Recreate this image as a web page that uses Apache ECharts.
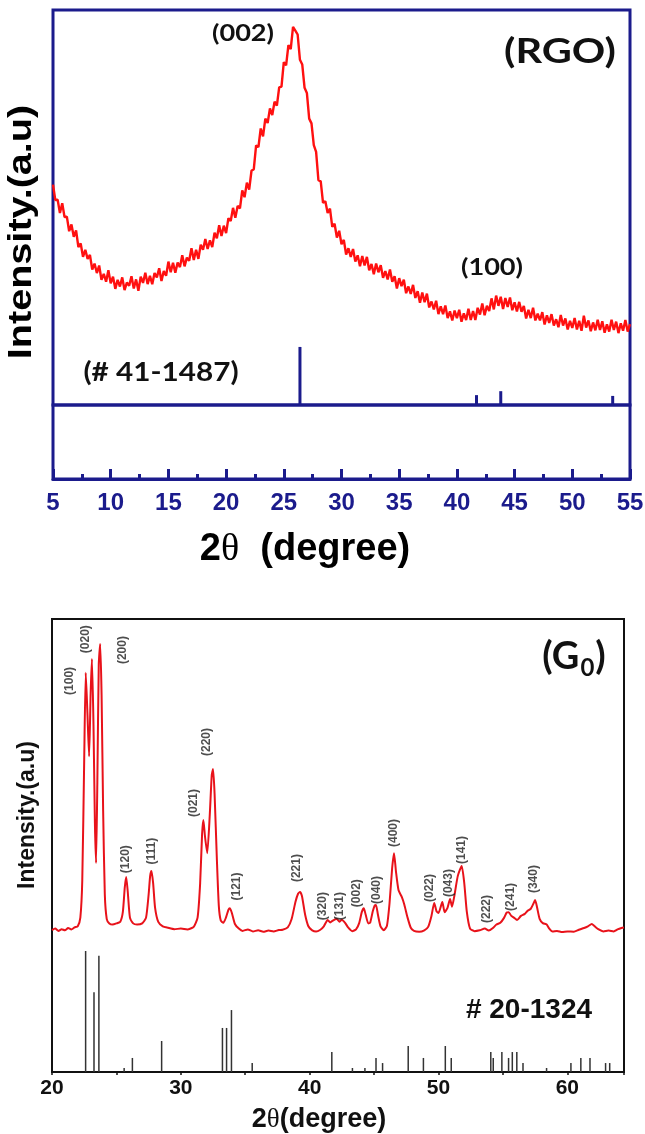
<!DOCTYPE html>
<html><head><meta charset="utf-8">
<script src="https://cdn.jsdelivr.net/npm/echarts@6/dist/echarts.min.js"></script>
<style>html,body{margin:0;padding:0;background:#fff}#c{width:645px;height:1134px}</style>
</head><body><div id="c"></div>
<script>
// ---------- RGO panel data ----------
const rgoScanStart = 5;      // first 2θ of the scan
const rgoScanStep = 0.2;     // scan step (degree)
const rgoIntensity = [
55.8,51.9,52.0,48.6,51.1,47.6,47.7,44.0,45.7,42.6,
44.2,40.0,40.9,37.5,39.3,37.0,38.0,34.3,35.8,33.4,
35.3,31.7,33.2,31.2,34.1,30.8,32.5,29.4,31.7,30.0,
32.3,29.1,31.0,30.2,32.6,29.5,31.8,28.9,32.5,30.9,
33.5,30.6,32.7,30.6,33.4,32.3,34.6,31.4,33.9,32.7,
36.3,33.6,36.0,33.5,36.1,34.9,37.9,35.1,37.3,36.5,
39.7,36.7,39.3,37.0,40.6,39.3,42.0,39.5,41.7,40.0,
43.6,42.2,45.5,42.8,45.4,43.5,47.3,46.6,49.9,47.4,
50.4,49.8,54.3,52.6,56.3,54.5,59.3,59.7,65.7,65.3,
70.0,68.0,72.5,71.4,75.1,73.4,76.8,75.8,80.4,80.6,
86.8,86.0,91.1,90.1,95.7,94.8,93.8,87.4,86.2,80.3,
79.0,72.5,71.3,65.8,64.1,56.9,56.6,51.2,51.6,48.6,
49.7,45.1,45.9,42.4,44.1,40.7,41.8,38.1,39.7,37.5,
39.5,36.3,37.9,35.1,37.7,35.3,37.5,34.1,35.7,33.1,
35.8,33.6,35.4,32.2,33.9,31.8,34.3,31.2,32.6,29.5,
32.1,30.1,31.7,28.3,30.0,28.1,30.4,27.1,28.8,25.9,
28.5,26.0,28.2,24.7,26.2,24.2,26.4,23.0,25.0,23.0,
25.2,22.0,23.7,21.4,23.9,22.0,24.1,21.1,23.2,21.5,
24.4,21.5,23.8,21.5,24.6,22.9,25.7,22.7,25.1,23.8,
27.0,24.2,27.7,25.1,27.4,24.3,27.1,24.8,27.2,24.0,
26.0,23.7,26.1,23.6,25.1,21.9,24.1,22.0,24.6,21.4,
23.1,21.4,23.5,20.4,22.7,20.8,23.0,20.1,21.7,19.7,
22.8,20.1,21.9,19.1,21.3,19.5,22.0,19.1,21.3,18.8,
22.6,19.6,21.4,18.7,20.9,18.9,21.6,19.0,21.2,18.3,
20.4,18.6,21.6,19.0,21.1,18.2,20.7,18.8,21.5,18.6,
20.5];
const rgoRefAngle = [26.4, 41.7, 43.8, 53.5];
const rgoRefIntensity = [14.7, 2.5, 3.5, 2.3];
const rgoPeakText = ['(002)', '(100)'];

// ---------- G0 panel data ----------
const g0Angle = [
20.0,20.25,20.5,20.75,21.0,21.25,21.5,21.75,22.0,22.2,22.35,22.5,22.62,22.75,22.88,23.0,23.1,23.22,23.33,23.42,
23.52,23.63,23.74,23.85,23.97,24.1,24.25,24.45,24.7,25.0,25.3,25.5,25.65,25.76,25.88,26.05,26.3,26.6,27.0,27.3,
27.5,27.62,27.72,27.85,28.0,28.25,28.6,29.0,29.5,30.0,30.5,31.0,31.3,31.5,31.65,31.75,31.88,32.05,32.25,32.4,
32.5,32.62,32.8,32.95,33.1,33.3,33.5,33.7,33.8,33.95,34.2,34.5,34.8,35.2,35.6,36.0,36.4,36.8,37.2,37.6,
37.9,38.3,38.6,38.9,39.1,39.25,39.4,39.65,39.9,40.2,40.5,40.8,41.1,41.4,41.6,41.8,42.1,42.3,42.5,42.75,
43.0,43.3,43.6,43.85,44.05,44.2,44.35,44.55,44.7,44.9,45.05,45.15,45.3,45.5,45.75,46.0,46.2,46.4,46.55,46.7,
46.9,47.15,47.35,47.6,47.85,48.1,48.5,48.9,49.2,49.45,49.67,49.85,50.0,50.3,50.48,50.7,50.9,51.05,51.25,51.5,
51.8,52.0,52.2,52.45,52.8,53.2,53.6,53.9,54.2,54.5,54.8,55.1,55.3,55.45,55.65,55.85,56.1,56.4,56.7,56.9,
57.15,57.35,57.5,57.65,57.85,58.1,58.4,58.6,58.85,59.2,59.6,60.0,60.5,60.9,61.3,61.6,61.9,62.1,62.4,62.8,
63.2,63.6,63.9,64.2,64.4];
const g0Intensity = [
0.7,1.2,0.4,1.0,0.6,1.4,0.9,1.6,2.0,5,18,60,90,76,61,83,94.8,72,38,24,
52,93,100,82,42,13,4.5,3.0,2.6,3.0,3.6,7,15.5,19.1,14,5,3.0,2.6,3.0,5,
13,19.5,21.2,17,8.5,3.5,2.0,1.5,1.0,1.2,0.9,1.8,5,17,34,38.9,33,27.4,41,54.5,
56.6,48,25,9,4,3.2,5,7.8,8.3,6.8,2.8,1.2,0.4,0.9,0.2,0.6,0.1,0.5,0.2,0.7,
0.8,1.6,4.5,10.5,13.3,13.9,12.5,6,2,0.6,0.2,0.7,2,4.2,3.3,4.0,4.6,3.6,4.3,3.2,
1.5,0.3,0.9,3.2,7,8.3,6,3,3.3,7.2,9.2,9.4,6,2,0.6,2.2,10,22,27.4,21,
14.5,12.2,9.5,5,1.5,0.4,0.1,0.6,1.8,5.5,10.1,7.2,6.6,10.4,6.9,8.4,11.5,8.8,13,19.5,
22.9,17,7,1.2,0.3,0.6,1.2,0.5,1.3,2.6,3.2,5,6.8,6.9,5.6,5,4.2,5.6,6.3,7.3,
8,9.7,11.1,8.6,4.6,3.1,2.6,1.2,0.2,0.4,0.0,0.2,0.1,0.8,1.4,2.0,2.8,2.1,1.0,0.2,
0.5,0.2,0.9,1.4,1.6];
const g0RefAngle = [22.61,23.26,23.64,25.6,26.24,28.51,33.23,33.55,33.93,35.54,41.72,43.32,44.29,45.15,45.66,47.65,48.83,50.53,50.99,54.06,54.25,54.92,55.44,55.73,56.08,56.56,58.39,60.28,61.05,61.76,62.97,63.29];
const g0RefIntensity = [100,66,96,3.3,11.6,25.6,36.4,36.4,51.2,7.4,16.5,3.3,3.3,11.6,7.4,21.5,11.6,21.5,11.6,16.5,11.6,16.5,11.6,16.5,16.5,7.4,3.3,7.4,11.6,11.6,7.4,7.4];
const g0PeakLabel = ['(100)','(020)','(200)','(120)','(111)','(021)','(220)','(121)','(221)','(320)','(131)','(002)','(040)','(400)','(022)','(043)','(141)','(222)','(241)','(340)'];
const g0PeakLabelAngle = [21.36,22.65,25.47,25.75,27.71,30.98,32.04,34.35,38.99,41.03,42.36,43.65,45.21,46.56,49.35,50.83,51.77,53.76,55.58,57.39];
const g0PeakLabelLevel = [87.2,101.7,97.9,25.3,28.1,44.8,66.0,15.8,22.2,9.0,9.0,13.5,14.6,34.4,15.3,17.0,28.5,8.0,12.2,18.4];

const NAVY = '#1b1b8c';
const RED = '#ff1010';
const SANS = '"Liberation Sans", Arial, sans-serif';
const CAL = 'Lato, "Open Sans", sans-serif';

const chart = echarts.init(document.getElementById('c'), null, {renderer: 'canvas'});

function txt(text, x, y, font, fill, opts) {
  return Object.assign({
    type: 'text', x: x, y: y, z: 100,
    style: {text: text, font: font, fill: fill, align: 'center', verticalAlign: 'middle'}
  }, opts || {});
}

const option = {
  animation: false,
  backgroundColor: '#fff',
  grid: [
    {left: 53, top: 10, width: 577, height: 395, show: true, borderColor: NAVY, borderWidth: 3, backgroundColor: 'transparent', outerBoundsMode: 'none'},
    {left: 53, top: 405, width: 577, height: 74, show: true, borderColor: NAVY, borderWidth: 3, backgroundColor: 'transparent', outerBoundsMode: 'none'},
    {left: 52, top: 619, width: 572, height: 453, show: true, borderColor: '#111', borderWidth: 2, backgroundColor: 'transparent', outerBoundsMode: 'none'}
  ],
  xAxis: [
    {gridIndex: 0, type: 'value', min: 5, max: 55, show: false, splitLine: {show: false}},
    {gridIndex: 1, type: 'value', min: 5, max: 55, interval: 5,
     axisLine: {show: true, onZero: false, lineStyle: {color: NAVY, width: 3}},
     axisTick: {show: true, inside: true, length: 10, lineStyle: {color: NAVY, width: 3}},
     minorTick: {show: true, splitNumber: 2, length: 5, lineStyle: {color: NAVY, width: 3}},
     splitLine: {show: false}, minorSplitLine: {show: false},
     axisLabel: {color: NAVY, fontWeight: 'bold', fontSize: 24, fontFamily: SANS, margin: 12}},
    {gridIndex: 2, type: 'value', min: 20, max: 64.4, interval: 10,
     axisLine: {show: true, onZero: false, lineStyle: {color: '#111', width: 2}},
     axisTick: {show: true, length: 3, lineStyle: {color: '#111', width: 1.5}},
     minorTick: {show: true, splitNumber: 2, length: 3, lineStyle: {color: '#111', width: 1.5}},
     splitLine: {show: false},
     axisLabel: {color: '#111', fontWeight: 'bold', fontSize: 21, fontFamily: SANS, margin: 6,
       formatter: function (v) { return v % 10 === 0 ? String(v) : ''; }}}
  ],
  yAxis: [
    {gridIndex: 0, type: 'value', min: 0, max: 100, show: false, splitLine: {show: false}},
    {gridIndex: 1, type: 'value', min: 0, max: 1, show: false, splitLine: {show: false}},
    {gridIndex: 2, type: 'value', min: -48.6, max: 108.7, show: false, splitLine: {show: false}},
    {gridIndex: 2, type: 'value', min: 0, max: 374.4, show: false, splitLine: {show: false}}
  ],
  series: [
    {type: 'line', xAxisIndex: 0, yAxisIndex: 0, showSymbol: false, symbol: 'none',
     lineStyle: {color: RED, width: 2.4}, z: 3,
     data: rgoIntensity.map(function (v, i) { return [rgoScanStart + i * rgoScanStep, v]; })},
    {type: 'bar', xAxisIndex: 0, yAxisIndex: 0, barWidth: 3, itemStyle: {color: NAVY}, z: 4,
     data: rgoRefAngle.map(function (a, i) { return [a, rgoRefIntensity[i]]; })},
    {type: 'line', xAxisIndex: 2, yAxisIndex: 2, showSymbol: false, symbol: 'none', smooth: 0.2,
     lineStyle: {color: '#e8121a', width: 2}, z: 3,
     data: g0Angle.map(function (a, i) { return [a, g0Intensity[i]]; })},
    {type: 'bar', xAxisIndex: 2, yAxisIndex: 3, barWidth: 1.5, itemStyle: {color: '#333'}, z: 4,
     data: g0RefAngle.map(function (a, i) { return [a, g0RefIntensity[i]]; })},
    {type: 'scatter', xAxisIndex: 2, yAxisIndex: 2, symbolSize: 0, silent: true, z: 5,
     label: {show: true, position: 'inside', rotate: 90, formatter: '{b}', color: '#222',
             fontSize: 12, fontWeight: 'bold', fontFamily: SANS},
     data: g0PeakLabel.map(function (t, i) { return {name: t, value: [g0PeakLabelAngle[i], g0PeakLabelLevel[i]]}; })}
  ],
  graphic: [
    // RGO panel texts
    txt('Intensity.(a.u)', 22, 232, 'bold 33px ' + SANS, '#000', {rotation: Math.PI / 2, scaleX: 1.2}),
    txt(rgoPeakText[0], 243, 34, 'bold 23px ' + CAL, '#111', {scaleX: 1.18}),
    txt(rgoPeakText[1], 492, 268, 'bold 23px ' + CAL, '#111', {scaleX: 1.18}),
    txt('(RGO)', 560, 52, 'bold 34px ' + CAL, '#111', {scaleX: 1.22}),
    txt('(# 41-1487)', 161, 372, 'bold 27px ' + CAL, '#111', {scaleX: 1.1}),
    {type: 'text', x: 305, y: 550, z: 100, style: {
      text: '{a|2}{t|θ}{a|  (degree)}', align: 'center', verticalAlign: 'middle',
      rich: {a: {font: 'bold 38px ' + SANS, fill: '#000'}, t: {font: '38px "Liberation Serif", serif', fill: '#000'}}}},
    // G0 panel texts
    {type: 'text', x: 574, y: 657, z: 100, style: {
      text: '{a|(G}{b|0}{a|)}', align: 'center', verticalAlign: 'middle',
      rich: {a: {font: 'bold 38px ' + CAL, fill: '#111', lineHeight: 46},
             b: {font: 'bold 24px ' + CAL, fill: '#111', lineHeight: 24, verticalAlign: 'bottom', padding: [0, 1, 0, 1]}}}},
    txt('# 20-1324', 529, 1010, 'bold 28px ' + SANS, '#111'),
    txt('Intensity.(a.u)', 28, 815, 'bold 23px ' + SANS, '#111', {rotation: Math.PI / 2}),
    {type: 'text', x: 319, y: 1120, z: 100, style: {
      text: '{a|2}{t|θ}{a|(degree)}', align: 'center', verticalAlign: 'middle',
      rich: {a: {font: 'bold 27px ' + SANS, fill: '#111'}, t: {font: '27px "Liberation Serif", serif', fill: '#111'}}}}
  ]
};
chart.setOption(option);
</script>
</body></html>
